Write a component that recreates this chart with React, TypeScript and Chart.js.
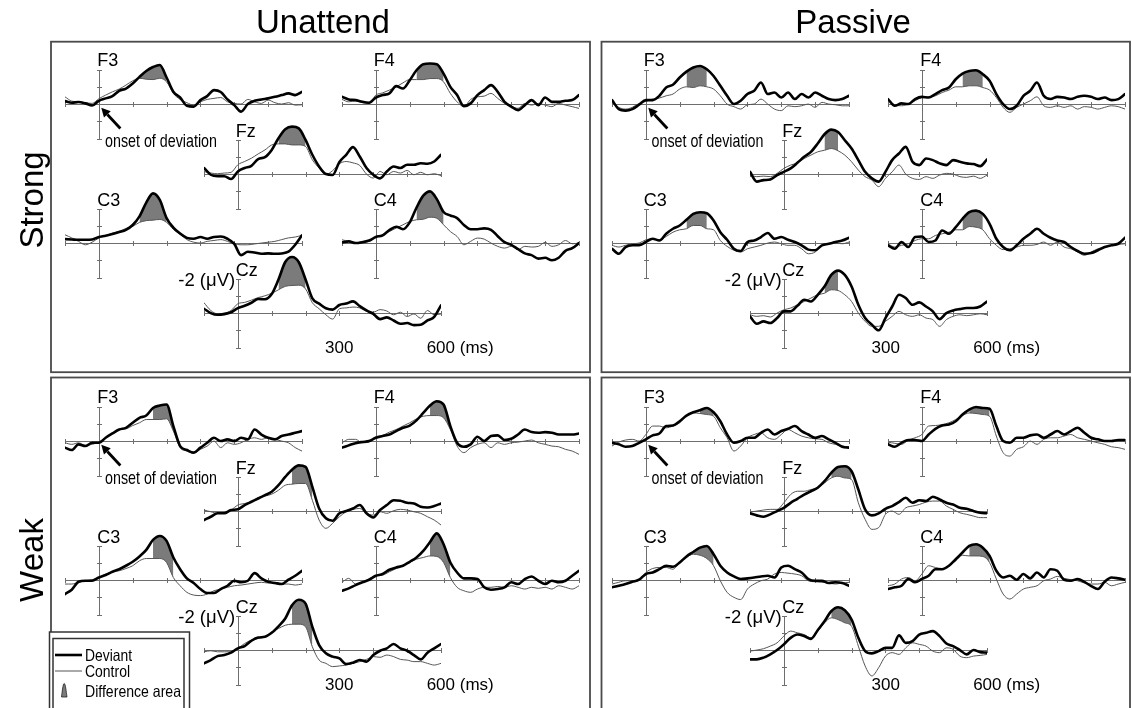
import React, { useEffect, useRef } from "react";
import { Chart, registerables } from "chart.js";

Chart.register(...registerables);

// ---------------- data ----------------
const TIMES = [-100, -80, -60, -40, -20, 0, 20, 40, 60, 80, 100, 120, 140, 160, 180, 200, 220, 240, 260, 280, 300, 320, 340, 360, 380, 400, 420, 440, 460, 480, 500, 520, 540, 560, 580, 600];
const X_TICKS = [-100, 0, 100, 200, 300, 400, 500, 600];
const Y_TICKS = [-2, -1, 0, 1, 2];
const ELECTRODES = ["F3", "F4", "Fz", "C3", "C4", "Cz"];
const TASKS = ["Unattend", "Passive"];
const STRENGTHS = ["Strong", "Weak"];
const X_LABEL_MID = "300";
const X_LABEL_END = "600 (ms)";
const Y_LABEL = "-2 (μV)";
const ONSET_LABEL = "onset of deviation";
const LEGEND_LABELS = ["Deviant", "Control", "Difference area"];

// Strong / Unattend
const suF3Dev = [-0.17, -0.08, -0.12, -0.04, 0.08, -0.19, -0.33, -0.46, -0.77, -0.9, -1.19, -1.58, -1.92, -2.15, -2.27, -1.54, -0.71, -0.38, 0.1, 0.15, -0.23, -0.46, -0.81, -0.7, -0.27, 0.06, 0.44, 0, -0.19, -0.27, -0.33, -0.42, -0.52, -0.62, -0.52, -0.71];
const suF3Ctl = [-0.42, -0.17, -0.13, -0.08, -0.04, -0.31, -0.52, -0.71, -0.87, -1.1, -1.35, -1.5, -1.44, -1.42, -1.5, -1.29, -0.62, -0.27, -0.08, 0.06, -0.13, -0.27, -0.33, -0.38, -0.13, -0.04, 0, -0.27, -0.13, -0.04, -0.23, -0.08, 0, -0.08, 0.06, 0.04];
const suF4Dev = [-0.42, -0.27, -0.23, -0.13, -0.08, -0.38, -0.52, -0.62, -1.04, -0.9, -1.38, -1.96, -2.31, -2.35, -2.31, -1.77, -1.0, -0.52, 0.12, -0.04, -0.52, -0.81, -1.1, -0.71, -0.13, 0.15, 0.35, 0.06, -0.23, 0.06, -0.38, -0.13, -0.13, -0.19, -0.23, -0.52];
const suF4Ctl = [-0.27, -0.13, -0.19, -0.08, -0.04, -0.52, -0.65, -0.81, -1.0, -1.23, -1.42, -1.42, -1.42, -1.48, -1.48, -1.29, -0.62, -0.13, 0.15, -0.27, -0.42, -0.46, -0.62, -0.33, -0.04, 0.12, 0.25, -0.04, 0.06, -0.04, 0.06, 0.15, -0.04, 0.06, 0.15, 0.25];
const suFzDev = [-0.35, 0.04, 0.13, 0.13, 0.29, -0.15, -0.35, -0.48, -0.87, -0.98, -1.4, -2.08, -2.6, -2.75, -2.65, -1.98, -1.12, -0.44, 0, 0.05, -0.7, -1.12, -1.56, -1.02, -0.35, 0.04, 0.25, -0.15, -0.44, -0.35, -0.54, -0.54, -0.63, -0.6, -0.73, -1.12];
const suFzCtl = [-0.15, -0.06, -0.02, -0.06, -0.1, -0.54, -0.73, -0.92, -1.17, -1.4, -1.69, -1.75, -1.75, -1.69, -1.69, -1.6, -0.83, -0.35, 0.02, -0.2, -0.6, -0.73, -0.65, -0.5, 0, 0.23, -0.15, 0.04, -0.15, -0.06, -0.21, 0.04, -0.1, 0.04, -0.02, 0.1];
const suC3Dev = [-0.23, -0.21, -0.19, -0.19, -0.21, -0.35, -0.42, -0.52, -0.64, -0.77, -1.05, -1.55, -2.35, -2.88, -2.5, -1.45, -0.9, -0.55, -0.3, -0.25, -0.35, -0.25, -0.35, -0.38, -0.25, 0.05, 0.7, 0.5, 0.55, 0.62, 0.6, 0.62, 0.6, 0.5, 0.1, -0.45];
const suC3Ctl = [-0.48, -0.3, -0.1, 0.1, -0.05, -0.29, -0.42, -0.58, -0.68, -0.85, -0.97, -1.2, -1.3, -1.33, -1.37, -1.2, -0.8, -0.5, -0.2, -0.05, 0, -0.1, -0.15, -0.2, -0.1, 0.05, 0.1, 0.1, 0.05, 0, -0.05, -0.1, -0.2, -0.3, -0.35, -0.45];
const suC4Dev = [-0.04, -0.1, 0, -0.05, -0.15, -0.35, -0.45, -0.75, -0.95, -0.8, -1.2, -2.05, -2.75, -3.0, -2.55, -1.8, -1.6, -1.45, -1.05, -0.8, -0.8, -0.85, -0.77, -0.4, -0.05, 0.1, 0.35, 0.6, 0.7, 0.9, 0.85, 1.0, 0.85, 0.45, 0.3, 0];
const suC4Ctl = [-0.19, -0.1, 0, -0.1, -0.1, -0.38, -0.48, -0.67, -0.87, -1.06, -1.25, -1.35, -1.38, -1.5, -1.44, -1.06, -0.67, -0.38, 0.1, -0.1, -0.29, -0.23, 0, 0.19, 0.29, 0.19, 0.38, 0.19, 0.23, 0.19, -0.04, 0.19, 0.1, -0.15, 0.04, 0];
const suCzDev = [-0.25, 0, 0.1, 0.06, -0.05, -0.29, -0.42, -0.6, -0.82, -0.8, -1.1, -1.95, -2.96, -3.25, -2.95, -1.95, -0.85, -0.55, -0.28, -0.2, -0.47, -0.55, -0.68, -0.4, -0.15, 0.05, 0.35, 0.25, 0.43, 0.62, 0.58, 0.7, 0.68, 0.43, 0.22, -0.45];
const suCzCtl = [-0.6, -0.15, 0.04, 0, -0.15, -0.54, -0.62, -0.75, -0.9, -1.0, -1.15, -1.35, -1.55, -1.6, -1.62, -1.4, -0.6, -0.25, 0.1, 0.35, -0.25, -0.3, -0.35, -0.3, -0.1, -0.05, -0.2, -0.12, 0.1, -0.05, 0.2, 0.05, 0.3, -0.15, 0.1, 0.05];
const suWindows = [[120, 200], [120, 200], [120, 200], [120, 200], [120, 200], [120, 200]];

// Strong / Passive
const spF3Dev = [-0.23, 0.29, 0.38, 0.29, 0.04, -0.23, -0.23, -0.48, -0.96, -1.12, -1.54, -1.88, -2.12, -2.21, -2.02, -1.63, -1.06, -0.48, 0, -0.19, -0.58, -0.77, -1.25, -0.58, -0.67, -0.38, -0.67, -0.29, -0.58, -0.38, -0.67, -0.48, -0.29, -0.23, -0.29, -0.48];
const spF3Ctl = [-0.1, 0.19, 0.29, 0.19, -0.04, -0.15, -0.29, -0.35, -0.48, -0.58, -0.87, -1.0, -0.96, -1.06, -1.0, -0.87, -0.48, 0, 0.15, 0.29, 0.04, 0, -0.29, 0, 0.29, 0.38, 0.1, 0.15, 0.1, 0, 0.19, -0.1, 0, 0.04, 0.1, 0.1];
const spF4Dev = [-0.29, 0.1, -0.04, 0, -0.29, -0.42, -0.38, -0.58, -0.81, -0.96, -1.44, -1.77, -1.92, -1.96, -1.73, -1.35, -0.58, 0, 0.29, 0.1, -0.48, -0.77, -1.25, -0.48, -0.29, -0.42, -0.38, -0.29, -0.42, -0.48, -0.42, -0.29, -0.38, -0.23, -0.29, -0.58];
const spF4Ctl = [-0.19, 0.04, 0.1, 0, -0.19, -0.38, -0.42, -0.48, -0.67, -0.81, -1.0, -1.0, -1.06, -1.06, -0.96, -0.81, -0.38, 0.19, 0.48, 0.19, 0, -0.19, -0.42, 0.1, 0.19, 0.1, 0.19, 0.1, 0.29, 0.15, 0.19, 0.29, 0.19, 0.1, 0.15, 0.29];
const spFzDev = [-0.13, 0.44, 0.35, 0.31, 0.06, -0.13, -0.33, -0.65, -1.0, -1.29, -1.77, -2.31, -2.58, -2.44, -1.96, -1.48, -0.81, -0.13, 0.25, 0.44, -0.13, -0.81, -1.19, -1.58, -0.71, -0.52, -0.9, -0.81, -0.62, -0.52, -0.81, -0.71, -0.62, -0.58, -0.46, -0.85];
const spFzCtl = [0.06, 0.15, 0.12, 0.15, -0.04, -0.33, -0.52, -0.65, -0.9, -1.1, -1.29, -1.38, -1.48, -1.35, -1.1, -0.71, -0.23, 0.15, 0.35, 0.73, 0.25, -0.13, -0.52, 0, 0.25, 0.31, 0.15, 0.25, 0.06, -0.04, 0, 0.15, 0.19, 0.12, 0.25, 0.06];
const spC3Dev = [0.33, 0.62, 0.23, 0.13, 0.13, -0.06, -0.25, -0.15, -0.54, -0.83, -1.02, -1.35, -1.69, -1.79, -1.73, -1.31, -0.63, -0.19, 0.33, 0.46, -0.06, -0.15, -0.35, -0.58, -0.25, -0.35, -0.19, -0.06, 0.13, 0.38, 0.42, 0.13, 0.04, -0.06, -0.15, -0.31];
const spC3Ctl = [0.13, 0.23, 0.13, 0.04, 0, -0.19, -0.25, -0.19, -0.38, -0.63, -0.77, -0.83, -1.02, -1.02, -0.83, -0.77, -0.15, 0.19, 0.42, 0.52, 0.33, 0.23, 0.13, 0, -0.06, 0.04, 0.13, 0.13, 0.33, 0.62, 0.52, 0.13, 0.04, 0, 0.04, -0.06];
const spC4Dev = [0.13, 0.33, -0.06, 0.23, -0.35, -0.38, -0.06, -0.15, -0.73, -0.54, -0.92, -1.4, -1.79, -1.88, -1.69, -1.12, -0.25, 0.23, 0.42, 0.13, -0.25, -0.54, -0.83, -0.54, -0.31, -0.15, -0.06, 0.23, 0.46, 0.62, 0.58, 0.42, 0.23, 0.13, 0.04, -0.31];
const spC4Ctl = [0.04, 0.23, 0.13, 0.04, -0.15, -0.25, -0.25, -0.44, -0.54, -0.63, -0.77, -0.77, -0.96, -0.92, -0.77, -0.25, 0.13, 0.38, 0.33, 0.23, 0.13, 0.13, 0.08, -0.06, 0.13, -0.06, 0.23, 0.33, 0.52, 0.71, 0.52, 0.33, 0.23, 0.13, 0.08, 0.04];
const spCzDev = [0.19, 0.62, 0.48, 0.58, 0.29, -0.1, -0.1, -0.42, -0.77, -0.67, -1.06, -1.54, -2.21, -2.46, -2.21, -1.54, -0.48, 0.29, 0.67, 1.0, 0.29, -0.38, -1.06, -0.87, -0.48, -0.62, -0.38, -0.1, 0.35, 0, -0.15, -0.23, -0.29, -0.29, -0.38, -0.67];
const spCzCtl = [0.1, 0.19, 0.15, 0.23, 0, -0.19, -0.29, -0.48, -0.67, -0.87, -1.06, -1.15, -1.35, -1.31, -1.06, -0.67, 0, 0.48, 0.77, 0.77, 0.48, 0.19, -0.1, 0.1, 0.19, 0.1, 0.29, 0.38, 0.77, 0.38, 0.19, 0.1, 0.15, 0.1, 0.04, 0.1];
const spWindows = [[120, 180], [120, 180], [120, 160], [120, 180], [120, 180], [120, 160]];

// Weak / Unattend
const wuF3Dev = [0.38, 0.52, 0.19, 0.29, 0.1, 0.1, -0.19, -0.44, -0.67, -0.77, -1.06, -1.35, -1.48, -1.92, -2.06, -2.12, -0.87, 0.29, 0.52, 0.67, 0.38, 0.1, -0.19, 0, -0.1, 0, -0.19, -0.1, -0.67, -0.38, -0.19, -0.1, -0.29, -0.38, -0.48, -0.58];
const wuF3Ctl = [0.1, 0.19, 0.1, 0.25, 0.19, 0.06, -0.19, -0.44, -0.67, -0.71, -0.9, -1.06, -1.25, -1.25, -1.25, -1.29, -0.58, 0.38, 0.58, 0.71, 0.48, 0.29, 0, 0.38, 0.1, 0.19, 0.1, -0.1, -0.19, -0.1, -0.19, -0.1, 0, 0.1, 0.38, 0.58];
const wuF4Dev = [0.38, 0.25, 0.12, 0.05, 0, -0.19, -0.29, -0.38, -0.58, -0.77, -0.9, -1.2, -1.63, -2.06, -2.31, -2.12, -0.87, 0.1, 0.33, 0.19, -0.25, 0, -0.29, -0.33, -0.06, -0.13, -0.38, -0.67, -0.52, -0.48, -0.52, -0.48, -0.38, -0.38, -0.38, -0.44];
const wuF4Ctl = [0.1, -0.1, -0.1, 0.1, 0.06, -0.25, -0.33, -0.52, -0.67, -0.87, -1.06, -1.29, -1.44, -1.48, -1.48, -1.35, -0.67, 0.29, 0.67, 0.38, 0.19, 0.1, 0.38, 0.1, 0.19, 0.1, 0.06, 0, -0.06, 0.1, 0.19, 0.29, 0.33, 0.48, 0.58, 0.77];
const wuFzDev = [0.52, 0.33, 0.13, 0.13, -0.06, -0.1, -0.35, -0.54, -0.73, -0.92, -1.12, -1.5, -1.98, -2.4, -2.65, -2.56, -1.4, -0.15, 0.42, 0.56, 0.13, 0, -0.15, -0.35, 0.13, 0.37, -0.06, -0.35, -0.63, -0.6, -0.48, -0.44, -0.25, -0.21, -0.29, -0.44];
const wuFzCtl = [-0.06, 0.04, 0.13, 0.1, -0.06, -0.35, -0.44, -0.54, -0.79, -0.87, -0.98, -1.21, -1.5, -1.56, -1.6, -1.6, -0.63, 0.52, 1.0, 0.71, 0.33, 0.04, -0.1, -0.15, 0.13, 0.23, 0.04, 0.13, -0.02, -0.1, -0.06, 0.04, 0.13, 0.33, 0.52, 0.81];
const wuC3Dev = [0.81, 0.56, 0.1, 0.04, 0.04, -0.15, -0.29, -0.48, -0.63, -0.83, -1.06, -1.37, -1.75, -2.33, -2.56, -2.27, -1.31, -0.63, -0.1, 0.17, 0.52, 0.75, 0.75, 0.52, 0.33, 0.04, 0.13, 0.04, -0.4, -0.1, 0.1, 0.17, 0.23, -0.02, -0.25, -0.54];
const wuC3Ctl = [0.23, 0.23, 0.13, 0.04, -0.02, -0.15, -0.35, -0.48, -0.54, -0.67, -0.83, -1.12, -1.25, -1.25, -1.25, -1.02, -0.15, 0.33, 0.71, 0.87, 0.9, 0.81, 0.62, 0.52, 0.42, 0.33, 0.29, 0.23, 0.17, 0.13, 0.17, 0.13, 0.23, 0.23, 0.29, 0.23];
const wuC4Dev = [0.62, 0.48, 0.29, 0.13, -0.02, -0.25, -0.35, -0.6, -0.73, -0.83, -1.06, -1.31, -1.69, -2.21, -2.71, -2.08, -1.02, -0.44, -0.1, -0.1, -0.06, 0.42, 0.56, 0.52, 0.42, 0.13, 0.23, -0.06, -0.21, 0.04, 0.23, 0.04, 0.13, 0.04, -0.25, -0.54];
const wuC4Ctl = [0.13, -0.1, 0.23, 0.13, -0.06, -0.25, -0.29, -0.48, -0.67, -0.83, -1.02, -1.21, -1.31, -1.4, -1.37, -1.02, -0.15, 0.42, 0.62, 0.71, 0.52, 0.42, 0.42, 0.37, 0.42, 0.33, 0.42, 0.52, 0.42, 0.48, 0.42, 0.52, 0.33, 0.42, 0.52, 0.33];
const wuCzDev = [0.77, 0.58, 0.35, 0.29, 0.15, -0.1, -0.23, -0.54, -0.73, -0.77, -1.0, -1.38, -1.83, -2.6, -2.92, -2.69, -1.35, -0.29, 0.19, 0.38, 0.48, 0.81, 0.73, 0.58, 0.67, 0.29, 0.04, -0.1, -0.35, -0.1, 0.04, 0.29, 0.54, 0.15, -0.1, -0.35];
const wuCzCtl = [0.1, 0.04, 0.1, 0.1, 0.1, -0.1, -0.38, -0.58, -0.67, -0.77, -1.06, -1.25, -1.44, -1.5, -1.5, -1.35, -0.19, 0.58, 0.77, 0.96, 0.92, 0.87, 0.77, 0.67, 0.54, 0.38, 0.42, 0.29, 0.38, 0.54, 0.58, 0.67, 0.67, 0.77, 0.87, 0.77];
const wuWindows = [[160, 220], [160, 220], [160, 220], [160, 220], [160, 220], [160, 220]];

// Weak / Passive
const wpF3Dev = [0.1, 0.19, 0.33, 0.29, 0.1, -0.1, -0.33, -0.44, -0.87, -0.9, -1.15, -1.48, -1.67, -1.79, -1.92, -1.67, -1.15, -0.38, 0.1, 0, -0.19, -0.19, -0.48, -0.67, -0.38, -0.58, -0.71, -0.87, -0.58, -0.38, -0.19, -0.29, -0.1, 0.1, 0.33, 0.38];
const wpF3Ctl = [0.29, 0.06, -0.06, -0.1, 0, -0.38, -0.87, -0.87, -0.77, -0.87, -1.06, -1.48, -1.63, -1.6, -1.54, -1.44, -0.77, -0.19, 0.58, 0.29, -0.19, -0.38, -0.48, -0.19, -0.1, -0.38, -0.67, -0.48, -0.29, -0.19, -0.13, -0.1, 0.1, 0.19, 0.29, 0.33];
const wpF4Dev = [0.19, 0.33, 0.1, -0.06, -0.06, 0, -0.38, -0.71, -0.9, -0.96, -1.15, -1.54, -1.83, -1.98, -1.92, -1.87, -0.87, 0, 0.1, -0.19, -0.19, -0.33, -0.38, -0.19, -0.38, -0.58, -0.38, -0.58, -0.77, -0.48, -0.19, -0.1, 0, 0, -0.06, -0.06];
const wpF4Ctl = [0.06, 0.13, 0.19, -0.06, -0.19, -0.38, -0.87, -0.9, -0.96, -1.06, -1.25, -1.48, -1.63, -1.6, -1.54, -1.44, -0.29, 0.67, 0.87, 0.48, 0.33, 0, 0.19, -0.1, -0.19, -0.19, -0.29, -0.38, -0.19, -0.1, 0, 0.1, 0.19, 0.33, 0.38, 0.48];
const wpFzDev = [0.13, 0.25, 0.33, 0.19, 0, -0.19, -0.48, -0.71, -0.96, -1.15, -1.35, -1.73, -2.21, -2.56, -2.6, -2.31, -1.25, -0.1, 0.25, 0.13, -0.13, -0.29, -0.52, -0.77, -0.48, -0.63, -0.58, -0.83, -0.67, -0.48, -0.38, -0.19, -0.13, 0, 0.1, 0.13];
const wpFzCtl = [0.06, 0, -0.06, -0.1, -0.1, -0.48, -0.96, -1.15, -1.15, -1.25, -1.35, -1.63, -1.92, -2.02, -1.92, -1.83, -0.48, 0.48, 1.06, 0.96, 0.19, 0, 0.19, -0.19, -0.29, -0.38, -0.52, -0.58, -0.58, -0.29, -0.1, 0.1, 0.19, 0.29, 0.38, 0.38];
const wpC3Dev = [0.42, 0.33, 0.23, 0.1, -0.02, -0.35, -0.44, -0.63, -0.83, -0.77, -1.02, -1.37, -1.63, -1.88, -1.98, -1.5, -0.83, -0.44, -0.21, -0.06, -0.1, -0.15, -0.21, -0.25, -0.15, -0.73, -0.83, -0.63, -0.44, -0.06, 0.04, 0.04, 0.17, 0.13, 0.17, 0.33];
const wpC3Ctl = [0.23, 0.13, 0.04, 0.04, -0.02, -0.44, -0.67, -0.73, -0.73, -0.63, -1.02, -1.31, -1.5, -1.44, -1.25, -0.83, 0.04, 0.71, 1.0, 1.13, 0.52, 0.23, 0.04, -0.06, -0.35, -0.44, -0.4, -0.35, -0.25, 0.04, 0.1, 0.13, 0.17, 0.23, 0.17, 0.13];
const wpC4Dev = [0.52, 0.42, 0.33, -0.06, 0.13, -0.06, -0.25, -0.63, -0.63, -0.83, -1.21, -1.6, -1.98, -2.08, -1.88, -1.4, -0.54, -0.15, -0.25, -0.02, -0.35, -0.1, -0.44, -0.15, -0.63, -0.54, -0.02, 0.04, -0.06, 0.1, 0.35, 0.52, 0.1, -0.15, -0.1, -0.02];
const wpC4Ctl = [0.33, 0.23, -0.06, -0.15, 0.04, -0.35, -0.83, -0.73, -0.67, -0.83, -1.12, -1.44, -1.4, -1.4, -1.37, -1.02, -0.06, 0.81, 1.1, 0.81, 0.52, 0.42, 0.33, 0.04, -0.06, -0.21, -0.1, -0.02, 0.04, 0.17, 0.23, 0.23, 0.13, 0.33, 0.23, 0.13];
const wpCzDev = [0.54, 0.54, 0.44, 0.25, 0, -0.33, -0.71, -0.9, -0.81, -0.65, -1.15, -1.67, -2.25, -2.48, -2.31, -1.77, -0.71, 0.06, 0.19, 0.06, -0.13, -0.13, -0.85, -0.42, -0.52, -0.9, -1.0, -1.1, -0.81, -0.38, -0.23, 0, 0.25, 0, 0.12, 0.15];
const wpCzCtl = [0.06, 0, -0.08, -0.23, -0.42, -0.81, -1.1, -1.0, -0.9, -0.71, -1.1, -1.58, -1.87, -1.77, -1.58, -1.38, -0.23, 0.92, 1.5, 1.02, 0.35, 0.15, 0.25, -0.13, -0.42, -0.33, -0.23, 0.06, 0.15, -0.13, -0.04, 0.35, 0.44, 0.35, 0.31, 0.25];
const wpWindows = [[160, 200], [140, 200], [140, 200], [140, 200], [140, 200], [140, 200]];

const PANELS = [
  { strength: 0, task: 0, dev: [suF3Dev, suF4Dev, suFzDev, suC3Dev, suC4Dev, suCzDev], ctl: [suF3Ctl, suF4Ctl, suFzCtl, suC3Ctl, suC4Ctl, suCzCtl], win: suWindows },
  { strength: 0, task: 1, dev: [spF3Dev, spF4Dev, spFzDev, spC3Dev, spC4Dev, spCzDev], ctl: [spF3Ctl, spF4Ctl, spFzCtl, spC3Ctl, spC4Ctl, spCzCtl], win: spWindows },
  { strength: 1, task: 0, dev: [wuF3Dev, wuF4Dev, wuFzDev, wuC3Dev, wuC4Dev, wuCzDev], ctl: [wuF3Ctl, wuF4Ctl, wuFzCtl, wuC3Ctl, wuC4Ctl, wuCzCtl], win: wuWindows },
  { strength: 1, task: 1, dev: [wpF3Dev, wpF4Dev, wpFzDev, wpC3Dev, wpC4Dev, wpCzDev], ctl: [wpF3Ctl, wpF4Ctl, wpFzCtl, wpC3Ctl, wpC4Ctl, wpCzCtl], win: wpWindows },
];

// ---------------- layout / style ----------------
const FONT = "'Liberation Sans', Arial, Helvetica, sans-serif";
const PLOT_W = 237;
const PLOT_H = 100;
const PAD = 4;
const X_MIN = -100;
const X_MAX = 600;
const Y_MIN = -3.6;
const Y_MAX = 2.2;
const PX_MS = PLOT_W / (X_MAX - X_MIN);
const PX_UV = PLOT_H / (Y_MAX - Y_MIN);
const ORIGINS = [
  [99.3, 103.7],
  [375.7, 103.7],
  [237.7, 174],
  [99.3, 243.3],
  [375.7, 243.3],
  [237.7, 313],
];
const COL_DX = 546.5;
const ROW_DY = 337;
const AXIS_COLOR = "#6e6e6e";
const CTL_COLOR = "#555555";
const FILL_COLOR = "#7b7b7b";
const BORDER_COLOR = "#4a4a4a";
const TICK = 2.5;

function ErpPlot({ ox, oy, dev, ctl, win, onset }) {
  const ref = useRef(null);
  useEffect(() => {
    const canvas = ref.current;
    const pts = (arr) => arr.map((v, i) => ({ x: TIMES[i], y: v }));
    const inWin = (c) => TIMES[c.p0DataIndex] >= win[0] && TIMES[c.p1DataIndex] <= win[1];
    const axisPlugin = {
      id: "erpAxes",
      beforeDatasetsDraw(chart) {
        const { ctx } = chart;
        const xs = chart.scales.x;
        const ys = chart.scales.y;
        const snap = (v) => Math.round(v) + 0.5;
        const x0 = snap(xs.getPixelForValue(0));
        const y0 = snap(ys.getPixelForValue(0));
        ctx.save();
        ctx.strokeStyle = AXIS_COLOR;
        ctx.lineWidth = 1;
        ctx.beginPath();
        ctx.moveTo(snap(xs.getPixelForValue(X_TICKS[0])), y0);
        ctx.lineTo(snap(xs.getPixelForValue(X_TICKS[X_TICKS.length - 1])), y0);
        X_TICKS.forEach((t) => {
          const px = snap(xs.getPixelForValue(t));
          ctx.moveTo(px, y0 - TICK);
          ctx.lineTo(px, y0 + TICK);
        });
        ctx.moveTo(x0, snap(ys.getPixelForValue(Y_TICKS[0])));
        ctx.lineTo(x0, snap(ys.getPixelForValue(Y_TICKS[Y_TICKS.length - 1])));
        Y_TICKS.forEach((v) => {
          const py = snap(ys.getPixelForValue(v));
          ctx.moveTo(x0 - TICK, py);
          ctx.lineTo(x0 + TICK, py);
        });
        ctx.stroke();
        ctx.restore();
      },
      afterDatasetsDraw(chart) {
        if (!onset) return;
        const { ctx } = chart;
        const x0 = chart.scales.x.getPixelForValue(0);
        const y0 = chart.scales.y.getPixelForValue(0);
        const tipX = x0 + 2.4;
        const tipY = y0 + 3.8;
        const tailX = x0 + 21.5;
        const tailY = y0 + 24.5;
        const ang = Math.atan2(tipY - tailY, tipX - tailX);
        const headLen = 9;
        const headHalf = 4.6;
        const bx = tipX - headLen * Math.cos(ang);
        const by = tipY - headLen * Math.sin(ang);
        ctx.save();
        ctx.strokeStyle = "#000";
        ctx.fillStyle = "#000";
        ctx.lineWidth = 2.8;
        ctx.beginPath();
        ctx.moveTo(tailX, tailY);
        ctx.lineTo(bx, by);
        ctx.stroke();
        ctx.beginPath();
        ctx.moveTo(tipX, tipY);
        ctx.lineTo(bx + headHalf * Math.sin(ang), by - headHalf * Math.cos(ang));
        ctx.lineTo(bx - headHalf * Math.sin(ang), by + headHalf * Math.cos(ang));
        ctx.closePath();
        ctx.fill();
        ctx.restore();
      },
    };
    const chart = new Chart(canvas, {
      type: "line",
      data: {
        datasets: [
          {
            label: "Difference area",
            data: pts(dev),
            order: 3,
            borderWidth: 0,
            borderColor: "rgba(0,0,0,0)",
            backgroundColor: "rgba(0,0,0,0)",
            fill: 1,
            pointRadius: 0,
            segment: {
              backgroundColor: (c) => (inWin(c) ? FILL_COLOR : "rgba(0,0,0,0)"),
            },
          },
          {
            label: "Control",
            data: pts(ctl),
            order: 2,
            borderWidth: 1,
            borderColor: CTL_COLOR,
            fill: false,
            pointRadius: 0,
          },
          {
            label: "Deviant",
            data: pts(dev),
            order: 1,
            borderWidth: 2.6,
            borderColor: "#000000",
            fill: false,
            pointRadius: 0,
          },
        ],
      },
      options: {
        responsive: false,
        maintainAspectRatio: false,
        animation: false,
        events: [],
        layout: { padding: PAD },
        elements: { line: { cubicInterpolationMode: "monotone", borderJoinStyle: "round", borderCapStyle: "round" } },
        scales: {
          x: { type: "linear", min: X_MIN, max: X_MAX, display: false },
          y: { type: "linear", min: Y_MIN, max: Y_MAX, reverse: true, display: false },
        },
        plugins: { legend: { display: false }, tooltip: { enabled: false } },
      },
      plugins: [axisPlugin],
    });
    return () => chart.destroy();
  }, []);
  const cw = PLOT_W + 2 * PAD;
  const ch = PLOT_H + 2 * PAD;
  const left = ox - (0 - X_MIN) * PX_MS - PAD;
  const top = oy - (0 - Y_MIN) * PX_UV - PAD;
  return (
    <canvas
      ref={ref}
      width={cw}
      height={ch}
      style={{ position: "absolute", left, top, width: cw, height: ch }}
    />
  );
}

export default function App() {
  const plots = [];
  const texts = [];
  PANELS.forEach((p, pi) => {
    const dx = p.task * COL_DX;
    const dy = p.strength * ROW_DY;
    ELECTRODES.forEach((name, e) => {
      const ox = ORIGINS[e][0] + dx;
      const oy = ORIGINS[e][1] + dy;
      plots.push(
        <ErpPlot key={`p${pi}-${e}`} ox={ox} oy={oy} dev={p.dev[e]} ctl={p.ctl[e]} win={p.win[e]} onset={e === 0} />
      );
      texts.push(
        <text key={`l${pi}-${e}`} x={ox - 2} y={oy - 37.5} fontSize={18}>
          {name}
        </text>
      );
      if (e === 0) {
        texts.push(
          <text key={`o${pi}`} x={ox + 5.7} y={oy + 42.8} fontSize={19} textLength={112} lengthAdjust="spacingAndGlyphs">
            {ONSET_LABEL}
          </text>
        );
      }
      if (e === 5) {
        texts.push(
          <text key={`y${pi}`} x={ox - 2.5} y={oy - 27} fontSize={18.5} textAnchor="end">
            {Y_LABEL}
          </text>
        );
        texts.push(
          <text key={`m${pi}`} x={ox + 300 * PX_MS} y={oy + 40.3} fontSize={17} textAnchor="middle">
            {X_LABEL_MID}
          </text>
        );
        texts.push(
          <text key={`e${pi}`} x={ox + 600 * PX_MS - 14.2} y={oy + 40.3} fontSize={17}>
            {X_LABEL_END}
          </text>
        );
      }
    });
  });

  return (
    <div style={{ position: "absolute", left: 0, top: 0, width: 1132, height: 708, background: "#fff", overflow: "hidden" }}>
      <svg width={1132} height={708} style={{ position: "absolute", left: 0, top: 0 }} fontFamily={FONT}>
        <rect x={51} y={41.7} width={539} height={330.5} fill="none" stroke={BORDER_COLOR} strokeWidth={1.8} />
        <rect x={601.5} y={41.7} width={528.5} height={330.5} fill="none" stroke={BORDER_COLOR} strokeWidth={1.8} />
        <rect x={51} y={377.5} width={539} height={420} fill="none" stroke={BORDER_COLOR} strokeWidth={1.8} />
        <rect x={601.5} y={377.5} width={528.5} height={420} fill="none" stroke={BORDER_COLOR} strokeWidth={1.8} />
      </svg>
      {plots}
      <svg width={1132} height={708} style={{ position: "absolute", left: 0, top: 0, pointerEvents: "none" }} fontFamily={FONT} fill="#000">
        <text x={323} y={33.3} fontSize={33} textAnchor="middle">{TASKS[0]}</text>
        <text x={853} y={33.3} fontSize={33} textAnchor="middle">{TASKS[1]}</text>
        <text transform="translate(43.3 200) rotate(-90)" fontSize={33} textAnchor="middle">{STRENGTHS[0]}</text>
        <text transform="translate(43.3 560) rotate(-90)" fontSize={33} textAnchor="middle">{STRENGTHS[1]}</text>
        {texts}
        <rect x={49.5} y={632} width={140} height={120} fill="#fff" stroke="#333" strokeWidth={1.5} />
        <rect x={53} y={638.5} width={131} height={120} fill="none" stroke="#333" strokeWidth={1.5} />
        <line x1={55} x2={82} y1={655} y2={655} stroke="#000" strokeWidth={2.6} />
        <text x={85} y={660.5} fontSize={16.5} textLength={47} lengthAdjust="spacingAndGlyphs">{LEGEND_LABELS[0]}</text>
        <line x1={55} x2={82} y1={671} y2={671} stroke={CTL_COLOR} strokeWidth={1} />
        <text x={85} y={676.5} fontSize={16.5} textLength={45} lengthAdjust="spacingAndGlyphs">{LEGEND_LABELS[1]}</text>
        <path d="M61.5 697 C62.3 691 63 683.5 64.2 683.5 C65.4 683.5 66.1 691 67 697 Z" fill={FILL_COLOR} stroke="#222" strokeWidth={0.8} />
        <text x={85} y={696.7} fontSize={16.5} textLength={96} lengthAdjust="spacingAndGlyphs">{LEGEND_LABELS[2]}</text>
      </svg>
    </div>
  );
}
